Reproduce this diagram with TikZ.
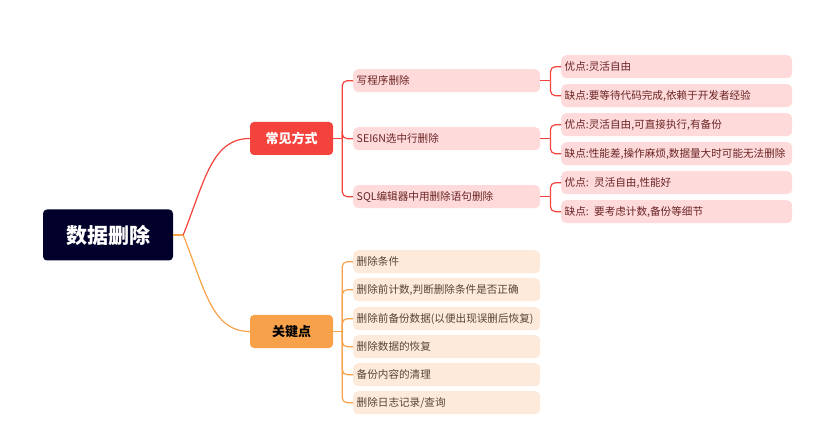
\documentclass[tikz,border=0pt]{standalone}
\usepackage{fontspec}
\setmainfont{Noto Sans CJK SC}
\definecolor{rootc}{HTML}{00002A}
\definecolor{redc}{HTML}{F4433C}
\definecolor{orc}{HTML}{F7A24B}
\definecolor{redl}{HTML}{FFDADA}
\definecolor{orl}{HTML}{FDEADB}
\definecolor{redt}{HTML}{6A2424}
\definecolor{ort}{HTML}{5A4432}
\tikzset{
  rootbox/.style={fill=rootc, rounded corners=4pt, text=white, font=\bfseries\fontsize{21}{24}\selectfont, minimum width=130pt, minimum height=51pt, inner sep=0pt},
  redbranch/.style={fill=redc, rounded corners=4pt, text=white, font=\bfseries\fontsize{13}{15}\selectfont, minimum width=83pt, minimum height=33pt, inner sep=0pt},
  orbranch/.style={fill=orc, rounded corners=4pt, text=black, font=\bfseries\fontsize{13}{15}\selectfont, minimum width=83pt, minimum height=33pt, inner sep=0pt},
  leaf/.style={anchor=north west, rounded corners=5pt, font=\fontsize{10.6}{12}\selectfont, minimum height=23pt, inner ysep=0pt, inner xsep=3.5pt, align=left},
  redleaf/.style={leaf, fill=redl, text=redt},
  orleaf/.style={leaf, fill=orl, text=ort},
  l2/.style={text width=180pt, minimum width=187pt},
  l3/.style={text width=224pt, minimum width=231pt},
  redline/.style={draw=redc, line width=1.2pt, rounded corners=5pt},
  orline/.style={draw=orc, line width=1.2pt, rounded corners=5pt},
}
\begin{document}
\begin{tikzpicture}[x=1pt, y=-1pt]
\useasboundingbox (0,0) rectangle (830,438);
% root and branches
\node[rootbox] (root) at (108,235) {数据删除};
\node[redbranch] (cj) at (291.5,138.5) {常见方式};
\node[orbranch] (gj) at (291.5,331.5) {关键点};
% level 2 red
\node[redleaf, l2] (a1) at (353,69) {写程序删除};
\node[redleaf, l2] (a2) at (353,127) {SEI6N选中行删除};
\node[redleaf, l2] (a3) at (353,185) {SQL编辑器中用删除语句删除};
% level 3
\node[redleaf, l3] (b1) at (561,55) {优点:灵活自由};
\node[redleaf, l3] (b2) at (561,84) {缺点:要等待代码完成,依赖于开发者经验};
\node[redleaf, l3] (b3) at (561,113) {优点:灵活自由,可直接执行,有备份};
\node[redleaf, l3] (b4) at (561,142) {缺点:性能差,操作麻烦,数据量大时可能无法删除};
\node[redleaf, l3] (b5) at (561,171) {优点: 灵活自由,性能好};
\node[redleaf, l3] (b6) at (561,200) {缺点: 要考虑计数,备份等细节};
% level 2 orange
\node[orleaf, l2] (o1) at (353,250) {删除条件};
\node[orleaf, l2] (o2) at (353,278) {删除前计数,判断删除条件是否正确};
\node[orleaf, l2] (o3) at (353,307) {删除前备份数据(以便出现误删后恢复)};
\node[orleaf, l2] (o4) at (353,335) {删除数据的恢复};
\node[orleaf, l2] (o5) at (353,363) {备份内容的清理};
\node[orleaf, l2] (o6) at (353,391) {删除日志记录/查询};
% root connectors
\coordinate (rj) at ([xshift=10pt]root.east);
\draw[orc, line width=1.2pt] (root.east) -- (rj);
\draw[redc, line width=1.2pt] (rj) .. controls (205,180) and (212,138.5) .. (cj.west);
\draw[orc, line width=1.2pt] (rj) .. controls (205,290) and (212,331.5) .. (gj.west);
% red level 2 connectors
\coordinate (cjx) at ([xshift=9pt]cj.east);
\draw[redline] (cj.east) -- (cjx);
\foreach \n in {a1,a2,a3} \draw[redline] (cjx) |- (\n.west);
% red level 3 connectors
\coordinate (a1x) at ([xshift=10pt]a1.east);
\coordinate (a2x) at ([xshift=10pt]a2.east);
\coordinate (a3x) at ([xshift=10pt]a3.east);
\draw[redline] (a1.east) -- (a1x);
\draw[redline] (a2.east) -- (a2x);
\draw[redline] (a3.east) -- (a3x);
\draw[redline] (a1x) |- (b1.west);
\draw[redline] (a1x) |- (b2.west);
\draw[redline] (a2x) |- (b3.west);
\draw[redline] (a2x) |- (b4.west);
\draw[redline] (a3x) |- (b5.west);
\draw[redline] (a3x) |- (b6.west);
% orange connectors
\coordinate (gjx) at ([xshift=9pt]gj.east);
\draw[orline] (gj.east) -- (gjx);
\foreach \n in {o1,o2,o3,o4,o5,o6} \draw[orline] (gjx) |- (\n.west);
\end{tikzpicture}
\end{document}
